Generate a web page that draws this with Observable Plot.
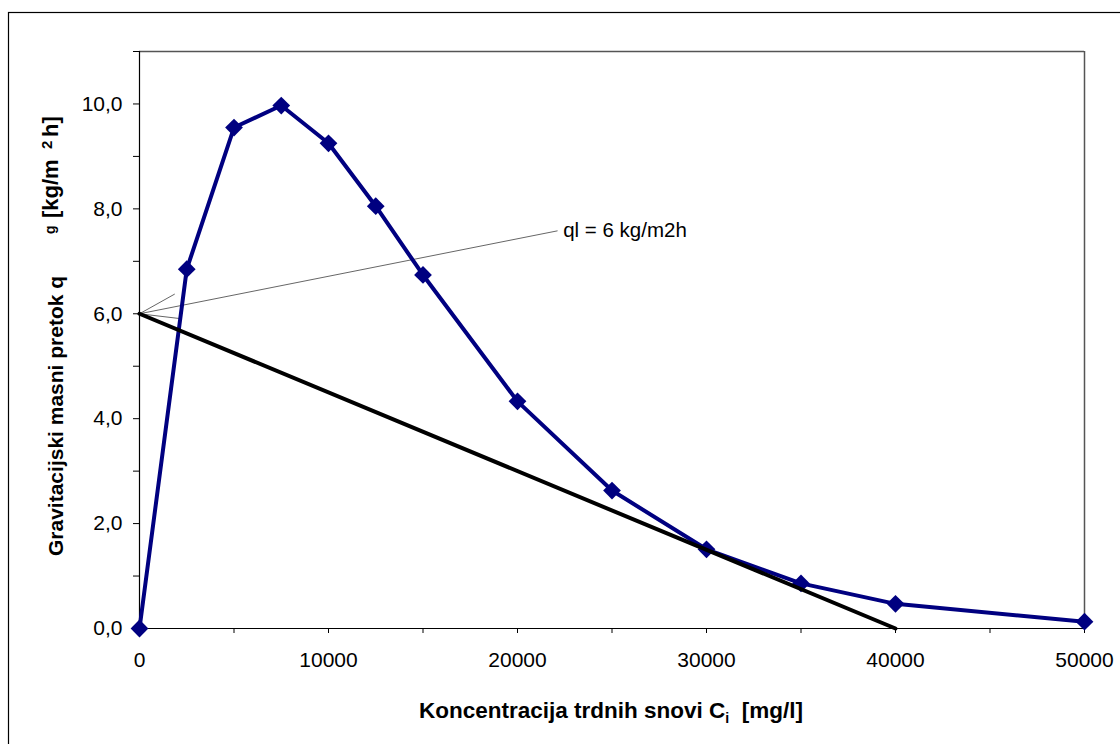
<!DOCTYPE html>
<html><head><meta charset="utf-8">
<script src="https://cdn.jsdelivr.net/npm/d3@7"></script>
<script src="https://cdn.jsdelivr.net/npm/@observablehq/plot@0.6"></script>
<style>body{margin:0;background:#fff} svg{display:block}</style>
</head><body><div id="chart"></div>
<script>
// Data
const concentration = [0, 2500, 5000, 7500, 10000, 12500, 15000, 20000, 25000, 30000, 35000, 40000, 50000];
const flux = [0, 6.85, 9.55, 9.97, 9.25, 8.05, 6.74, 4.33, 2.63, 1.51, 0.86, 0.47, 0.13];
const lineX = [0, 40000];
const lineY = [6, 0];
const xTicks = [0, 5000, 10000, 15000, 20000, 25000, 30000, 35000, 40000, 45000, 50000];
const xLabelTicks = [0, 10000, 20000, 30000, 40000, 50000];
const yTicks = [0, 1, 2, 3, 4, 5, 6, 7, 8, 9, 10, 11];
const yLabelTicks = [0, 2, 4, 6, 8, 10];
const noteText = ["ql = 6 kg/m2h"];
const noteFrom = [[22100, 7.58]];
const noteTo = [[0, 6]];

const points = concentration.map((c, i) => ({c, q: flux[i]}));
const opLine = lineX.map((c, i) => ({c, q: lineY[i]}));
const notes = noteText.map((t, i) => ({t, x1: noteFrom[i][0], y1: noteFrom[i][1], x2: noteTo[i][0], y2: noteTo[i][1]}));

const fmtY = d => yLabelTicks.includes(d) ? d.toFixed(1).replace(".", ",") : "";
const fmtX = d => xLabelTicks.includes(d) ? String(d) : "";
const FONT = "'Liberation Sans', Arial, sans-serif";

const chart = Plot.plot({
  width: 1120,
  height: 744,
  marginLeft: 139,
  marginRight: 36,
  marginTop: 51,
  marginBottom: 116,
  style: {fontFamily: FONT, fontSize: "21px", color: "#000", background: "#fff"},
  x: {domain: [0, 50000], label: null},
  y: {domain: [0, 11], label: null},
  marks: [
    Plot.ruleY([11], {stroke: "#555", strokeWidth: 1.5}),
    Plot.ruleX([50000], {stroke: "#555", strokeWidth: 1.5}),
    Plot.axisX(xTicks, {tickSize: 5, tickPadding: 19, tickFormat: fmtX, stroke: "#000", fontSize: 21}),
    Plot.axisY(yTicks, {tickSize: 6, tickPadding: 11, tickFormat: fmtY, stroke: "#000", fontSize: 21}),
    Plot.ruleY([0], {stroke: "#000", strokeWidth: 1.2}),
    Plot.ruleX([0], {stroke: "#000", strokeWidth: 1.2}),
    Plot.arrow(notes, {x1: "x1", y1: "y1", x2: "x2", y2: "y2", stroke: "#666", strokeWidth: 1, headLength: 60, headAngle: 36}),
    Plot.text(notes, {x: "x1", y: "y1", text: "t", textAnchor: "start", dx: 6, fontSize: 20.5, fill: "#000"}),
    Plot.line(points, {x: "c", y: "q", stroke: "#000080", strokeWidth: 4}),
    Plot.dot(points, {x: "c", y: "q", symbol: "diamond2", r: 8, fill: "#000080", stroke: "none"}),
    Plot.line(opLine, {x: "c", y: "q", stroke: "#000", strokeWidth: 4})
  ]
});

const svg = d3.select(chart);
// outer border
svg.append("rect").attr("x", 8.5).attr("y", 12.5).attr("width", 1120).attr("height", 744)
  .attr("fill", "none").attr("stroke", "#000").attr("stroke-width", 1.2);

// x label
const xl = svg.append("text").attr("x", 611).attr("y", 718).attr("text-anchor", "middle")
  .attr("font-family", FONT).attr("font-weight", "bold").attr("font-size", 22.5);
xl.append("tspan").text("Koncentracija trdnih snovi C");
xl.append("tspan").attr("font-size", 14).attr("dy", 5).text("i");
xl.append("tspan").attr("dy", -5).attr("xml:space", "preserve").text("  [mg/l]");

// y label, pieces placed along the rotated baseline
function yPiece(txt, x, y, size) {
  svg.append("text").attr("transform", `translate(${x},${y}) rotate(-90)`).attr("text-anchor", "start")
    .attr("font-family", FONT).attr("font-weight", "bold").attr("font-size", size).text(txt);
}
yPiece("Gravitacijski masni pretok q", 63, 556, 21);
yPiece("g", 55, 234, 14);
yPiece("[kg/m", 58, 218, 22);
yPiece("2", 52, 149, 15);
yPiece("h]", 58, 137, 22);

document.getElementById("chart").append(chart);
</script></body></html>
